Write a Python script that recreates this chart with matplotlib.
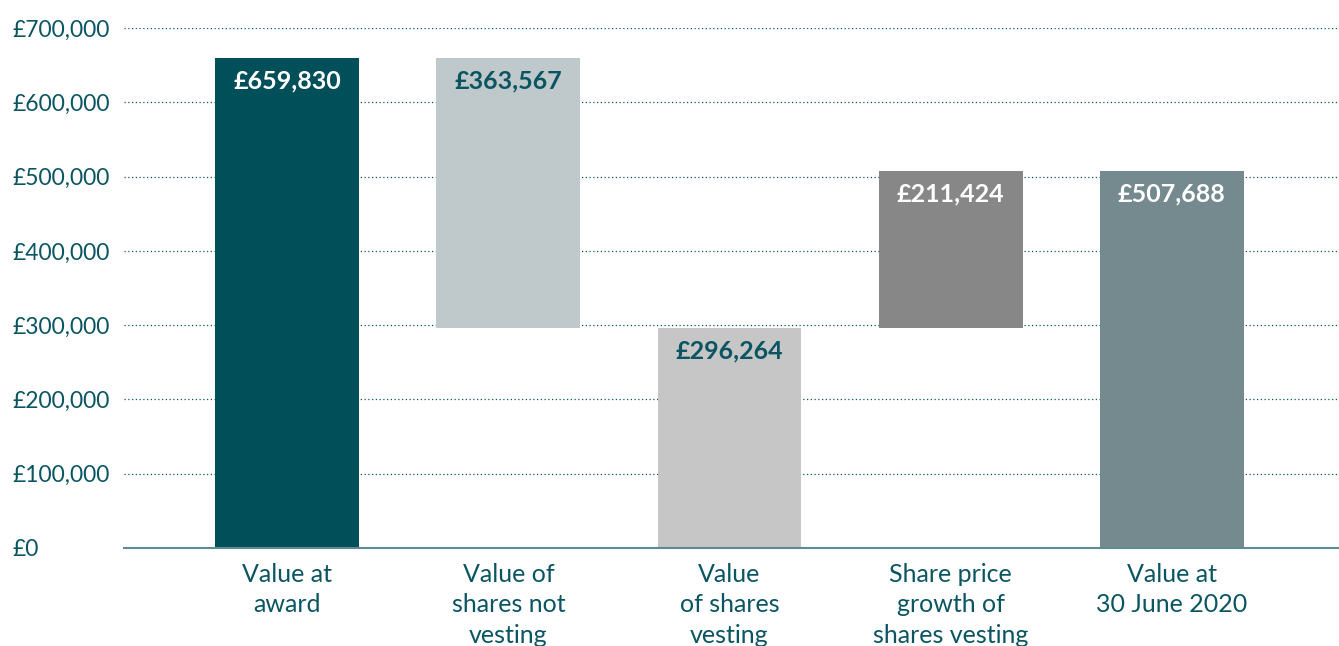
import matplotlib.pyplot as plt
from matplotlib.ticker import FuncFormatter

plt.rcParams['font.family'] = ['Lato', 'DejaVu Sans']

# Waterfall: award value -> lapsed -> vested -> growth -> final value
categories = ['Value at\naward', 'Value of\nshares not\nvesting', 'Value\nof shares\nvesting',
              'Share price\ngrowth of\nshares vesting', 'Value at\n30 June 2020']
award = 659830
not_vesting = 363567
vesting = 296264
growth = 211424
final = 507688

heights = [award, not_vesting, vesting, growth, final]
bottoms = [0, vesting, 0, vesting, 0]
colors = ['#004F59', '#BFC8CA', '#C6C6C6', '#878787', '#748A8F']
label_colors = ['white', '#0B5563', '#0B5563', 'white', 'white']

teal = '#0B5563'

fig = plt.figure(figsize=(13.39, 6.46), dpi=100)
ax = fig.add_axes([124 / 1339, 1 - 548 / 646, 1 - 124 / 1339, 520 / 646])

x = range(len(categories))
ax.bar(x, heights, bottom=bottoms, width=0.65, color=colors, zorder=2)

for i, (h, b) in enumerate(zip(heights, bottoms)):
    ax.text(i, b + h - 15000, f'£{h:,}', ha='center', va='top',
            fontsize=18, fontweight='bold', color=label_colors[i], zorder=3)

for i, name in enumerate(categories):
    ax.text(i, -0.028, name, transform=ax.get_xaxis_transform(), ha='center', va='top',
            fontsize=18, color=teal, linespacing=1.4)

ax.set_xlim(-0.738, 4.756)
ax.set_ylim(0, 700000)
ax.set_yticks(range(0, 700001, 100000))
ax.yaxis.set_major_formatter(FuncFormatter(lambda v, p: f'£{int(v):,}'))
ax.set_xticks([])

ax.grid(axis='y', color=teal, linestyle=(0, (1, 2)), linewidth=0.9, zorder=1)
for s in ['top', 'right', 'left']:
    ax.spines[s].set_visible(False)
ax.spines['bottom'].set_color('#5E8A91')
ax.spines['bottom'].set_linewidth(1.5)
ax.spines['bottom'].set_zorder(3)

ax.tick_params(axis='y', length=0, pad=111 * 72 / 100, labelsize=16.5, labelcolor=teal)
for lbl in ax.get_yticklabels():
    lbl.set_horizontalalignment('left')

fig.savefig('out.png', dpi=100)
